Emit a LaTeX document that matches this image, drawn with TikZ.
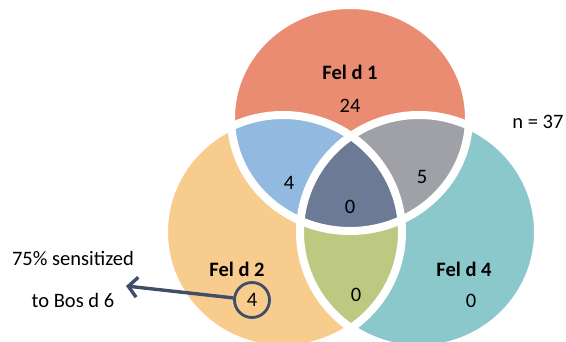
\documentclass[tikz,border=0pt]{standalone}
\usepackage{fontspec}
\setmainfont{Carlito}
\usetikzlibrary{arrows.meta}
\definecolor{cred}{RGB}{234,140,114}
\definecolor{cyel}{RGB}{247,204,140}
\definecolor{cteal}{RGB}{138,200,204}
\definecolor{cblue}{RGB}{146,186,224}
\definecolor{cgray}{RGB}{160,161,166}
\definecolor{cdark}{RGB}{108,122,150}
\definecolor{cgreen}{RGB}{189,200,128}
\definecolor{cslate}{RGB}{62,78,105}
\tikzset{
  lbl/.style={font=\fontsize{20.5}{24}\selectfont, inner sep=0pt},
  blbl/.style={font=\fontsize{20.5}{24}\selectfont\bfseries, inner sep=0pt},
  rim/.style={draw=white, line width=8pt},
}
\def\redE{(350,118) ellipse [x radius=119pt, y radius=113pt]}
\def\yelE{(283,232) ellipse [x radius=119pt, y radius=117pt]}
\def\tealE{(419,232) ellipse [x radius=119pt, y radius=117pt]}
\begin{document}
\begin{tikzpicture}[x=1pt,y=-1pt]
\useasboundingbox (0,0) rectangle (566,342);
\begin{scope}
\clip (0,0) rectangle (566,342);
\fill[cred] \redE;
\fill[cyel] \yelE;
\fill[cteal] \tealE;
\begin{scope}
  \clip \yelE;
  \fill[cgreen] \tealE;
\end{scope}
\begin{scope}
  \clip \redE;
  \fill[cblue] \yelE;
  \fill[cgray] \tealE;
  \clip \yelE;
  \fill[cdark] \tealE;
\end{scope}
\draw[rim] \redE;
\draw[rim] \yelE;
\draw[rim] \tealE;
\end{scope}
\node[blbl] (f1) at (350,72) {Fel d 1};
\node[lbl] (n24) at (350,106) {24};
\node[lbl] (nn) at (538,122) {n = 37};
\node[lbl] (nb) at (289,183) {4};
\node[lbl] (ng) at (422,177) {5};
\node[lbl] (nc) at (350,207) {0};
\node[blbl] (f2) at (237,269) {Fel d 2};
\node[lbl, circle, draw=cslate, line width=2.8pt, minimum width=35pt, inner sep=0pt] (c4) at (252,300) {4};
\node[lbl] (ngr) at (356,295) {0};
\node[blbl] (f4) at (464,269) {Fel d 4};
\node[lbl] (nt) at (471,301) {0};
\node[lbl] (s1) at (73,258) {75\% sensitized};
\node[lbl] (s2) at (73,300) {to Bos d 6};
\coordinate (tip) at (126,286);
\draw[cslate, line width=3.4pt, -{Straight Barb[length=9pt, width=20pt, line width=3.4pt]}] (c4) -- (tip);
\end{tikzpicture}
\end{document}
